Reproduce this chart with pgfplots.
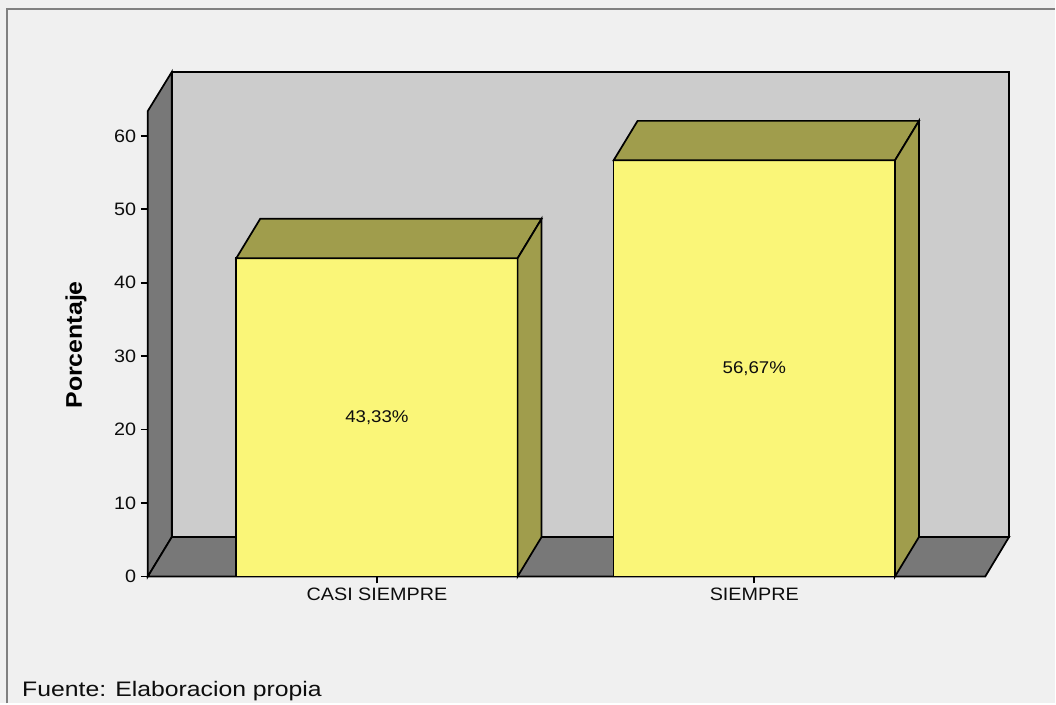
\documentclass[border=0pt]{standalone}
\usepackage{pgfplots}
\pgfplotsset{compat=1.18}
\usepackage{fontspec}
\setmainfont{Liberation Sans}[FakeStretch=1.1]
\newfontfamily\fuentefont{Liberation Sans}[FakeStretch=1.18]
\definecolor{bg}{RGB}{240,240,240}
\definecolor{wall}{RGB}{204,204,204}
\definecolor{dark}{RGB}{120,120,120}
\definecolor{barfront}{RGB}{250,246,120}
\definecolor{bartop}{RGB}{160,157,76}
\definecolor{framec}{RGB}{128,128,128}
\begin{document}
\begin{tikzpicture}
\begin{scope}[x=0.75pt,y=-0.75pt]
\fill[bg] (0,0) rectangle (1056,704);
\draw[framec, line width=1.5pt] (7,704) -- (7,9) -- (1056,9);
\node[anchor=base west, font=\fuentefont\fontsize{15.75}{18}\selectfont, inner sep=0, text=black!95] at (22,697) {Fuente: Elaboracion propia};
\end{scope}
\begin{axis}[
 at={(111pt,-432.75pt)}, anchor=south west,
 scale only axis, width=646.5pt, height=378.75pt,
 xmin=-0.607, xmax=1.675, ymin=0, ymax=68.71,
 clip=false,
 axis line style={draw=none},
 xtick={0,1}, xticklabels={CASI SIEMPRE, SIEMPRE},
 ytick={0,10,...,60},
 xtick pos=bottom, ytick pos=left,
 tick align=outside, major tick length=5.25pt,
 tick style={black, line width=1.3pt},
 ticklabel style={font=\fontsize{13.5}{16}\selectfont, text=black!95},
 /pgf/number format/assume math mode=true,
 ylabel={\textbf{Porcentaje}},
 ylabel style={at={(axis description cs:-0.0835,0.459)}, anchor=center, font=\fontsize{17}{20}\selectfont},
]
% back wall
\addplot[fill=wall, draw=black, line width=1.3pt] coordinates {(-0.5435,5.374) (1.675,5.374) (1.675,68.71) (-0.5435,68.71)} -- cycle;
% left wall
\addplot[fill=dark, draw=black, line width=1.3pt] coordinates {(-0.607,0) (-0.5435,5.374) (-0.5435,68.71) (-0.607,63.4)} -- cycle;
% floor
\addplot[fill=dark, draw=black, line width=1.3pt] coordinates {(-0.607,0) (1.612,0) (1.675,5.374) (-0.5435,5.374)} -- cycle;
% bar fronts
\addplot[ybar, bar width=0.7456, fill=barfront, draw=black, line width=1.3pt] coordinates {(0,43.33) (1,56.67)};
% bar tops
\addplot[fill=bartop, draw=black, line width=1.3pt] coordinates {(-0.3728,43.33) (-0.3093,48.704) (0.4363,48.704) (0.3728,43.33)} -- cycle;
\addplot[fill=bartop, draw=black, line width=1.3pt] coordinates {(0.6272,56.67) (0.6907,62.044) (1.4363,62.044) (1.3728,56.67)} -- cycle;
% bar sides
\addplot[fill=bartop, draw=black, line width=1.3pt] coordinates {(0.3728,0) (0.4363,5.374) (0.4363,48.704) (0.3728,43.33)} -- cycle;
\addplot[fill=bartop, draw=black, line width=1.3pt] coordinates {(1.3728,0) (1.4363,5.374) (1.4363,62.044) (1.3728,56.67)} -- cycle;
\node[font=\fontsize{12.75}{15}\selectfont, text=black!95] at (axis cs:0,21.665) {43,33\%};
\node[font=\fontsize{12.75}{15}\selectfont, text=black!95] at (axis cs:1,28.335) {56,67\%};
\end{axis}
\end{tikzpicture}
\end{document}
